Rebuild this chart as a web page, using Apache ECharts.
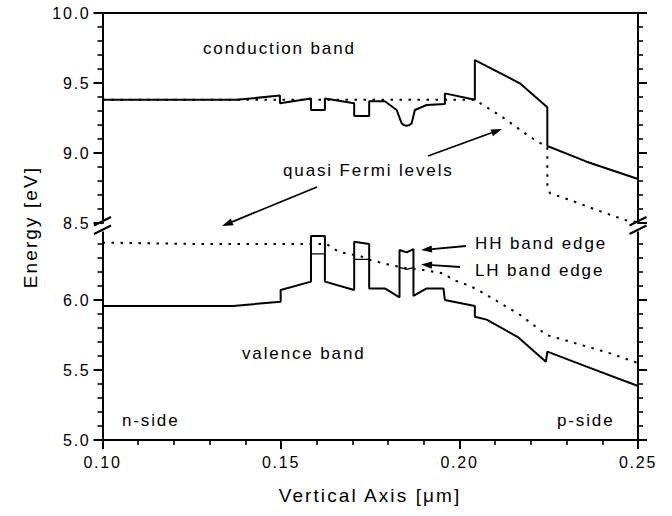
<!DOCTYPE html>
<html><head><meta charset="utf-8">
<script src="https://cdn.jsdelivr.net/npm/echarts@6/dist/echarts.min.js"></script>
<style>
html,body{margin:0;padding:0;background:#fff;}
#main{width:672px;height:516px;}
#main text{letter-spacing:0.11em;}
</style></head><body><div id="main"></div>
<script>
// ---------- data (x in µm, y in eV) ----------
const xTickLabels = ['0.10', '0.15', '0.20', '0.25'];
const yTopTickLabels = ['8.5', '9.0', '9.5', '10.0'];
const yBottomTickLabels = ['5.0', '5.5', '6.0'];

const conductionBand = [[0.100,9.38],[0.1376,9.38],[0.1497,9.41],[0.1497,9.355],[0.1584,9.39],[0.1584,9.307],[0.1623,9.307],[0.1623,9.39],[0.1705,9.355],[0.1705,9.264],[0.1747,9.264],[0.1747,9.37],[0.1791,9.37],[0.1824,9.307],[0.1838,9.212],[0.1845,9.199],[0.1852,9.195],[0.1859,9.199],[0.1866,9.212],[0.1875,9.307],[0.1908,9.343],[0.1959,9.35],[0.1959,9.426],[0.2043,9.38],[0.2043,9.664],[0.2169,9.498],[0.2246,9.326],[0.2246,9.05],[0.2356,8.938],[0.2500,8.814]];

const electronFermi = [[0.100,9.38],[0.2043,9.38],[0.2121,9.255],[0.2197,9.116],[0.2246,9.041],[0.2246,8.748],[0.2254,8.712],[0.2310,8.664],[0.2384,8.593],[0.2464,8.521],[0.2500,8.505]];

const valenceHH = [[0.100,5.957],[0.1366,5.957],[0.1499,5.988],[0.1499,6.071],[0.1584,6.131],[0.1584,6.457],[0.1623,6.457],[0.1623,6.131],[0.1705,6.071],[0.1705,6.416],[0.1747,6.40],[0.1747,6.083],[0.1791,6.083],[0.1832,6.019],[0.1832,6.357],[0.1852,6.34],[0.1871,6.364],[0.1871,6.029],[0.1908,6.083],[0.1955,6.083],[0.1959,6.0],[0.2043,5.957],[0.2043,5.881],[0.2076,5.86],[0.2165,5.733],[0.2242,5.559],[0.2246,5.631],[0.2356,5.524],[0.2500,5.386]];

const valenceLH = [[0.1584,6.329],[0.1623,6.329],['-','-'],[0.1705,6.29],[0.1747,6.29],['-','-'],[0.1832,6.233],[0.1852,6.219],[0.1871,6.231]];

const holeFermi = [[0.100,6.41],[0.127,6.40],[0.1628,6.40],[0.1661,6.345],[0.1684,6.333],[0.1722,6.314],[0.1750,6.286],[0.1806,6.25],[0.1853,6.226],[0.1899,6.214],[0.1955,6.19],[0.1983,6.143],[0.2030,6.10],[0.2076,6.036],[0.2170,5.893],[0.2244,5.75],[0.2310,5.702],[0.2422,5.619],[0.2497,5.552]];

// ---------- chart ----------
const FONT = '"Liberation Sans", Arial, sans-serif';
const chart = echarts.init(document.getElementById('main'), null, {renderer: 'svg'});
const L = 102.5, R = 638, TOP = 13, H = 210, BTOP = 230;
const lineStyleAxis = {color: '#000', width: 2};

function yAx(grid, pos, min, max, labels) {
  return {
    type: 'value', gridIndex: grid, position: pos, min: min, max: max, interval: 0.5,
    axisLine: {show: true, onZero: false, lineStyle: lineStyleAxis},
    axisTick: {show: true, inside: false, length: 9, lineStyle: {color: '#000', width: 2}},
    minorTick: {show: true, splitNumber: 5, length: 5, lineStyle: {color: '#000', width: 1.6}},
    splitLine: {show: false}, minorSplitLine: {show: false},
    axisLabel: {
      show: !!labels, margin: 12, fontSize: 16, fontFamily: FONT, color: '#000',
      formatter: function (v) { const s = v.toFixed(1); return labels && labels.indexOf(s) >= 0 ? s : ''; }
    }
  };
}

const dotted = {color: '#000', width: 2, type: [2.5, 6.5], cap: 'butt'};
const solid = {color: '#000', width: 2};

function arrow(x1, y1, x2, y2) {
  const a = Math.atan2(y2 - y1, x2 - x1), Lh = 11, W = 3.6;
  const bx = x2 - Lh * Math.cos(a), by = y2 - Lh * Math.sin(a);
  const px = -Math.sin(a) * W, py = Math.cos(a) * W;
  return [
    {type: 'line', z: 100, shape: {x1: x1, y1: y1, x2: bx, y2: by}, style: {stroke: '#000', lineWidth: 1.8}},
    {type: 'polygon', z: 100, shape: {points: [[x2, y2], [bx + px, by + py], [bx - px, by - py]]}, style: {fill: '#000'}}
  ];
}
function label(txt, x, y, size) {
  return {type: 'text', z: 100, x: x, y: y, style: {text: txt, fontSize: size || 17, fontFamily: FONT, fill: '#000', align: 'left', verticalAlign: 'middle'}};
}
function breakMark(cx) {
  return [
    {type: 'rect', z: 99, shape: {x: cx - 14, y: 224, width: 28, height: 7.5}, style: {fill: '#fff'}},
    {type: 'line', z: 100, shape: {x1: cx - 8.5, y1: 225.5, x2: cx + 8.5, y2: 217}, style: {stroke: '#000', lineWidth: 2}},
    {type: 'line', z: 100, shape: {x1: cx - 8.5, y1: 234, x2: cx + 8.5, y2: 225.5}, style: {stroke: '#000', lineWidth: 2}}
  ];
}

const graphics = [].concat(
  breakMark(L), breakMark(R),
  arrow(317, 187, 222, 226),
  arrow(428, 156, 502, 129),
  arrow(466, 246, 421, 250),
  arrow(460, 267, 421, 264.5),
  [
    label('conduction band', 203, 48),
    label('quasi Fermi levels', 283, 170),
    label('HH band edge', 475, 243),
    label('LH band edge', 475, 270),
    label('valence band', 242, 353),
    label('n-side', 122, 420),
    label('p-side', 557, 420),
    {type: 'text', z: 100, x: 30, y: 227, rotation: Math.PI / 2,
      style: {text: 'Energy [eV]', fontSize: 19, fontFamily: FONT, fill: '#000', align: 'center', verticalAlign: 'middle'}},
    {type: 'text', z: 100, x: 370, y: 495,
      style: {text: 'Vertical Axis [μm]', fontSize: 19, fontFamily: FONT, fill: '#000', align: 'center', verticalAlign: 'middle'}}
  ]
);

chart.setOption({
  animation: false,
  backgroundColor: '#fff',
  grid: [
    {left: L, right: 672 - R, top: TOP, height: H},
    {left: L, right: 672 - R, top: BTOP, height: H}
  ],
  xAxis: [
    {type: 'value', gridIndex: 0, position: 'top', min: 0.10, max: 0.25, interval: 0.05,
      axisLine: {show: true, onZero: false, lineStyle: lineStyleAxis},
      axisTick: {show: false}, axisLabel: {show: false}, splitLine: {show: false}},
    {type: 'value', gridIndex: 1, position: 'bottom', min: 0.10, max: 0.25, interval: 0.05,
      axisLine: {show: true, onZero: false, lineStyle: lineStyleAxis},
      axisTick: {show: true, length: 9, lineStyle: {color: '#000', width: 2}},
      minorTick: {show: true, splitNumber: 5, length: 5, lineStyle: {color: '#000', width: 1.6}},
      splitLine: {show: false},
      axisLabel: {margin: 14, fontSize: 16, fontFamily: FONT, color: '#000',
        formatter: function (v) { const s = v.toFixed(2); return xTickLabels.indexOf(s) >= 0 ? s : ''; }}}
  ],
  yAxis: [
    yAx(0, 'left', 8.5, 10.0, yTopTickLabels),
    yAx(0, 'right', 8.5, 10.0, null),
    yAx(1, 'left', 5.0, 6.5, yBottomTickLabels),
    yAx(1, 'right', 5.0, 6.5, null)
  ],
  series: [
    {name: 'conduction band', type: 'line', xAxisIndex: 0, yAxisIndex: 0, data: conductionBand, showSymbol: false, symbol: 'none', lineStyle: solid},
    {name: 'electron quasi Fermi level', type: 'line', xAxisIndex: 0, yAxisIndex: 0, data: electronFermi, showSymbol: false, symbol: 'none', lineStyle: dotted},
    {name: 'HH band edge', type: 'line', xAxisIndex: 1, yAxisIndex: 2, data: valenceHH, showSymbol: false, symbol: 'none', lineStyle: solid},
    {name: 'LH band edge', type: 'line', xAxisIndex: 1, yAxisIndex: 2, data: valenceLH, showSymbol: false, symbol: 'none', connectNulls: false, lineStyle: {color: '#000', width: 1.3}},
    {name: 'hole quasi Fermi level', type: 'line', xAxisIndex: 1, yAxisIndex: 2, data: holeFermi, showSymbol: false, symbol: 'none', lineStyle: dotted}
  ],
  graphic: graphics
});
</script></body></html>
